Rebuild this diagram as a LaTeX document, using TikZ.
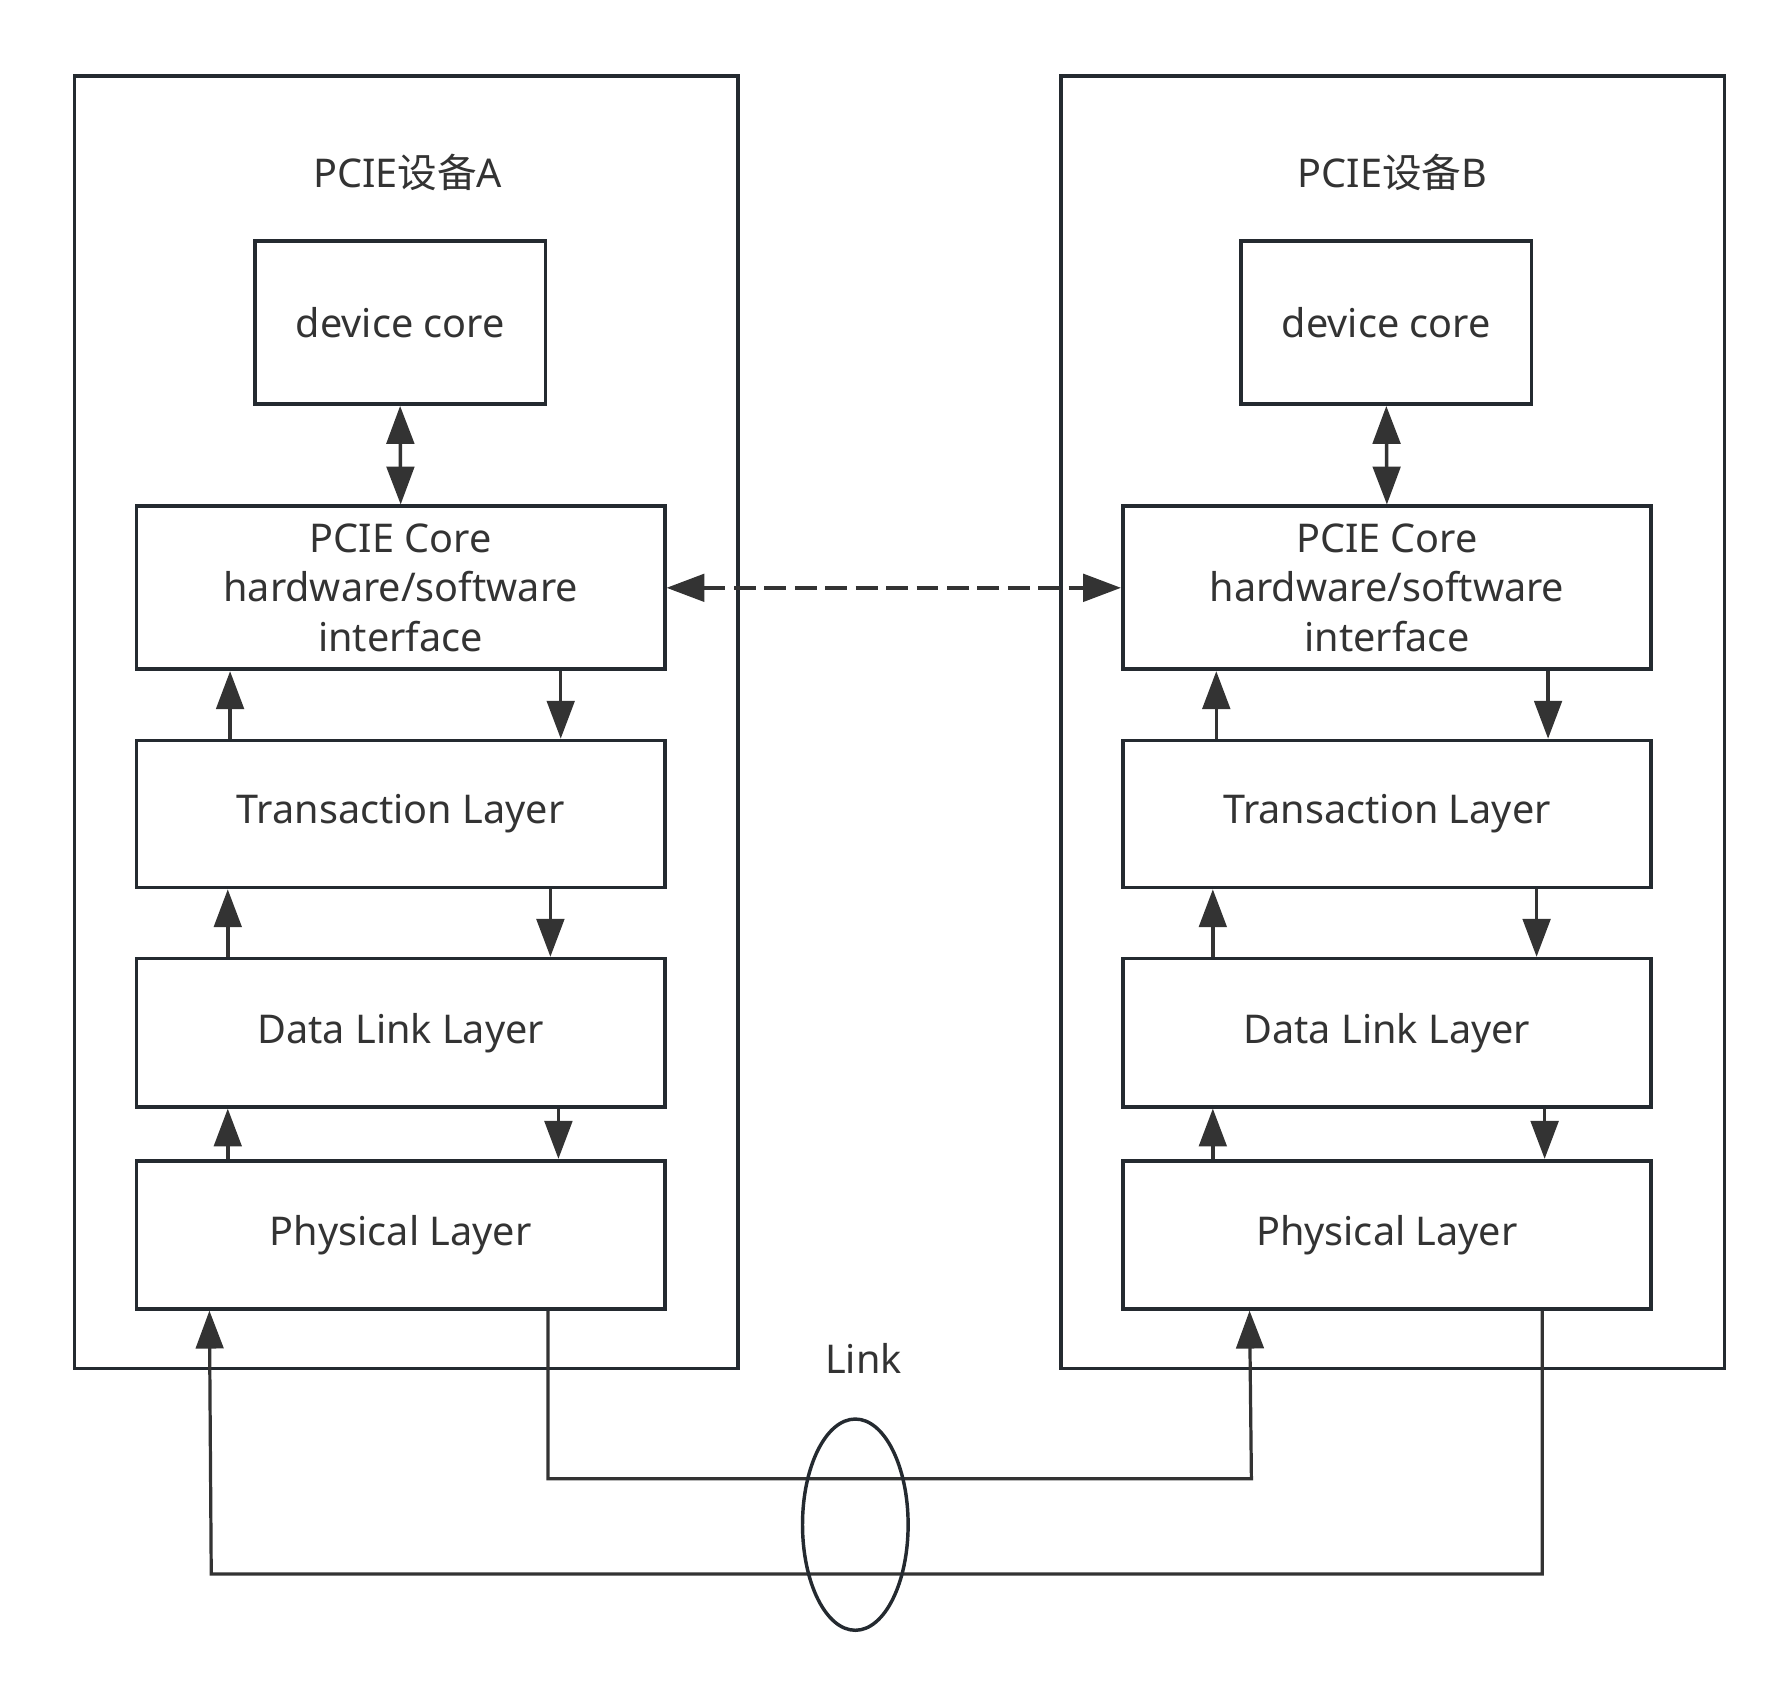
\documentclass[tikz,border=0pt]{standalone}
\usepackage{fontspec}
\setmainfont{Noto Sans}
\newfontfamily\cjk{Noto Sans CJK SC}
\usetikzlibrary{arrows.meta,shapes.geometric}
\definecolor{ln}{HTML}{242A30}
\definecolor{tx}{HTML}{333333}
\tikzset{
  box/.style={draw=ln, line width=3.2pt, minimum width=460pt, inner sep=0pt, align=center, text=tx, font=\fontsize{34.5}{43}\selectfont},
  outer/.style={draw=ln, line width=3.2pt, minimum width=578pt, minimum height=1126pt, inner sep=0pt},
  arr/.style={draw=tx, line width=3pt, -{Triangle[width=24pt,length=33pt]}},
  darr/.style={draw=tx, line width=3pt, {Triangle[width=24pt,length=33pt]}-{Triangle[width=24pt,length=33pt]}},
  linkln/.style={draw=tx, line width=2.8pt},
  lbl/.style={text=tx, font=\fontsize{34.5}{43}\selectfont, inner sep=0pt}
}
\begin{document}
\begin{tikzpicture}[x=1pt,y=-1pt]
\useasboundingbox (0,0) rectangle (1560,1477);
% outer boxes
\node[outer] (oA) at (354,629) {};
\node[outer] (oB) at (1213,629) {};
\node[lbl] (tiA) at (355,150) {PCIE{\cjk 设备}A};
\node[lbl] (tiB) at (1213,150) {PCIE{\cjk 设备}B};
% device A
\node[box, minimum width=253pt, minimum height=142pt] (dA) at (348.5,281) {device core};
\node[box, minimum height=142pt] (pA) at (349,512) {PCIE Core\\hardware/software\\interface};
\node[box, minimum height=128pt] (tA) at (349,709) {Transaction Layer};
\node[box, minimum height=129pt] (lA) at (349,899.5) {Data Link Layer};
\node[box, minimum height=129pt] (phA) at (349,1075.5) {Physical Layer};
% device B
\node[box, minimum width=253pt, minimum height=142pt] (dB) at (1207.5,281) {device core};
\node[box, minimum height=142pt] (pB) at (1208,512) {PCIE Core\\hardware/software\\interface};
\node[box, minimum height=128pt] (tB) at (1208,709) {Transaction Layer};
\node[box, minimum height=129pt] (lB) at (1208,899.5) {Data Link Layer};
\node[box, minimum height=129pt] (phB) at (1208,1075.5) {Physical Layer};
% vertical arrows A
\draw[darr] (dA.south) -- (pA.north);
\draw[arr] ([xshift=83pt]tA.north west) -- ([xshift=83pt]pA.south west);
\draw[arr] ([xshift=371pt]pA.south west) -- ([xshift=371pt]tA.north west);
\draw[arr] ([xshift=81pt]lA.north west) -- ([xshift=81pt]tA.south west);
\draw[arr] ([xshift=362pt]tA.south west) -- ([xshift=362pt]lA.north west);
\draw[arr] ([xshift=81pt]phA.north west) -- ([xshift=81pt]lA.south west);
\draw[arr] ([xshift=369pt]lA.south west) -- ([xshift=369pt]phA.north west);
% vertical arrows B
\draw[darr] (dB.south) -- (pB.north);
\draw[arr] ([xshift=83pt]tB.north west) -- ([xshift=83pt]pB.south west);
\draw[arr] ([xshift=372pt]pB.south west) -- ([xshift=372pt]tB.north west);
\draw[arr] ([xshift=80pt]lB.north west) -- ([xshift=80pt]tB.south west);
\draw[arr] ([xshift=362pt]tB.south west) -- ([xshift=362pt]lB.north west);
\draw[arr] ([xshift=80pt]phB.north west) -- ([xshift=80pt]lB.south west);
\draw[arr] ([xshift=369pt]lB.south west) -- ([xshift=369pt]phB.north west);
% dashed link between cores
\draw[darr, dash pattern=on 19pt off 7.5pt] (pA.east) -- (pB.west);
% link lines
\coordinate (c1) at (479,1288);
\coordinate (c2) at (1090,1288);
\coordinate (c3) at (1345,1371);
\coordinate (c4) at (184,1371);
\draw[linkln, -{Triangle[width=24pt,length=33pt]}] ([xshift=360pt]phA.south west) |- (c2) -- ([xshift=112pt]phB.south west);
\draw[linkln, -{Triangle[width=24pt,length=33pt]}] ([xshift=367pt]phB.south west) |- (c4) -- ([xshift=65pt]phA.south west);
\node[draw=ln, line width=3pt, ellipse, minimum width=92pt, minimum height=184pt, inner sep=0pt] (el) at (745,1328) {};
\node[lbl] (lk) at (752,1183) {Link};
\end{tikzpicture}
\end{document}
